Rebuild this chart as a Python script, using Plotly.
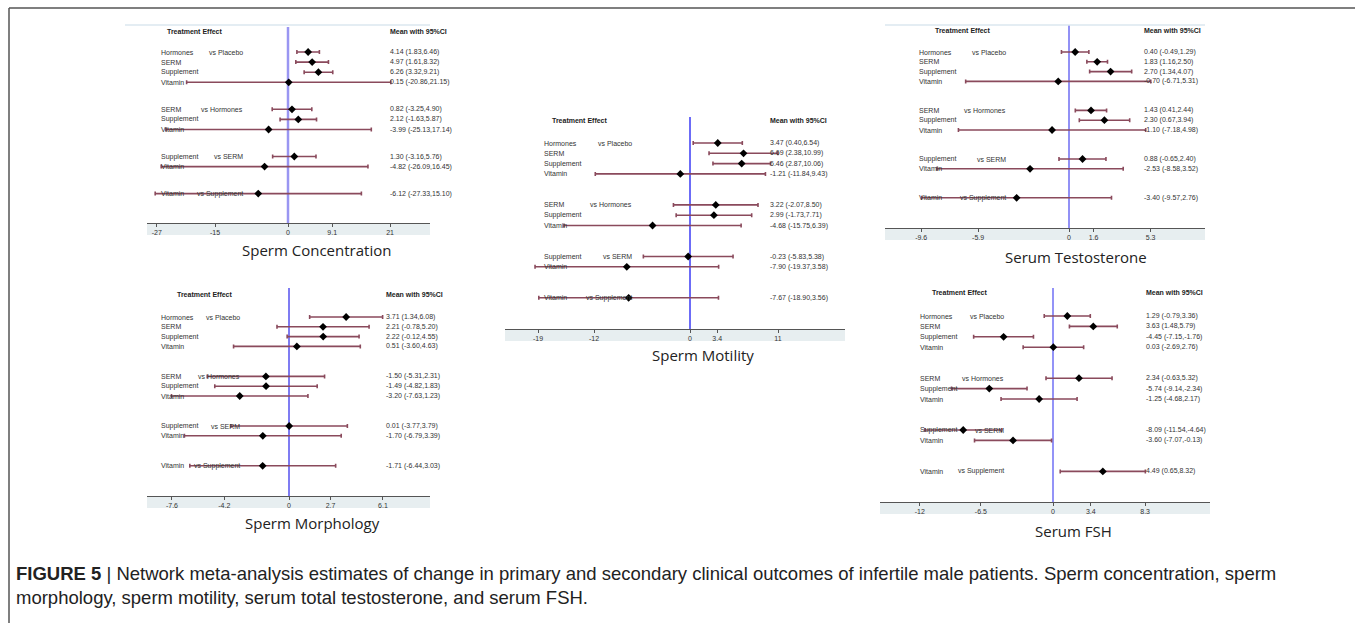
import plotly.graph_objects as go

W, H = 1355, 623

# ---------------- data ----------------
treatments = ["Hormones", "SERM", "Supplement", "Vitamin",
              "SERM", "Supplement", "Vitamin",
              "Supplement", "Vitamin",
              "Vitamin"]
comparators = ["vs Placebo", "vs Hormones", "vs SERM", "vs Supplement"]
group_sizes = [4, 3, 2, 1]

conc_mean = [4.14, 4.97, 6.26, 0.15, 0.82, 2.12, -3.99, 1.30, -4.82, -6.12]
conc_low = [1.83, 1.61, 3.32, -20.86, -3.25, -1.63, -25.13, -3.16, -26.09, -27.33]
conc_high = [6.46, 8.32, 9.21, 21.15, 4.90, 5.87, 17.14, 5.76, 16.45, 15.10]
conc_ticks = [-27, -15, 0, 9.1, 21]

morph_mean = [3.71, 2.21, 2.22, 0.51, -1.50, -1.49, -3.20, 0.01, -1.70, -1.71]
morph_low = [1.34, -0.78, -0.12, -3.60, -5.31, -4.82, -7.63, -3.77, -6.79, -6.44]
morph_high = [6.08, 5.20, 4.55, 4.63, 2.31, 1.83, 1.23, 3.79, 3.39, 3.03]
morph_ticks = [-7.6, -4.2, 0, 2.7, 6.1]

motil_mean = [3.47, 6.69, 6.46, -1.21, 3.22, 2.99, -4.68, -0.23, -7.90, -7.67]
motil_low = [0.40, 2.38, 2.87, -11.84, -2.07, -1.73, -15.75, -5.83, -19.37, -18.90]
motil_high = [6.54, 10.99, 10.06, 9.43, 8.50, 7.71, 6.39, 5.38, 3.58, 3.56]
motil_ticks = [-19, -12, 0, 3.4, 11]

testo_mean = [0.40, 1.83, 2.70, -0.70, 1.43, 2.30, -1.10, 0.88, -2.53, -3.40]
testo_low = [-0.49, 1.16, 1.34, -6.71, 0.41, 0.67, -7.18, -0.65, -8.58, -9.57]
testo_high = [1.29, 2.50, 4.07, 5.31, 2.44, 3.94, 4.98, 2.40, 3.52, 2.76]
testo_ticks = [-9.6, -5.9, 0, 1.6, 5.3]

fsh_mean = [1.29, 3.63, -4.45, 0.03, 2.34, -5.74, -1.25, -8.09, -3.60, 4.49]
fsh_low = [-0.79, 1.48, -7.15, -2.69, -0.63, -9.14, -4.68, -11.54, -7.07, 0.65]
fsh_high = [3.36, 5.79, -1.76, 2.76, 5.32, -2.34, 2.17, -4.64, -0.13, 8.32]
fsh_ticks = [-12, -6.5, 0, 3.4, 8.3]

titles = ["Sperm Concentration", "Sperm Morphology", "Sperm Motility",
          "Serum Testosterone", "Serum FSH"]

caption1 = ("<b>FIGURE 5</b> | Network meta-analysis estimates of change in primary and secondary "
            "clinical outcomes of infertile male patients. Sperm concentration, sperm")
caption2 = "morphology, sperm motility, serum total testosterone, and serum FSH."

# ---------------- layout (pixel geometry) ----------------
panels = [
    dict(data=(conc_mean, conc_low, conc_high, conc_ticks), x0=147, x1=430, zero=288, scale=4.86,
         top=27, axis=223, row0=52, step=10.1, gap=27, label_x=159, vs_right=245, te_x=165,
         head_y=32, val_x=388, tx=316, ty=250, zc="#9a96f2", zw=2.5, topline=(125, 430, 25)),
    dict(data=(morph_mean, morph_low, morph_high, morph_ticks), x0=147, x1=430, zero=289, scale=15.4,
         top=288, axis=496, row0=317, step=9.8, gap=30, label_x=159, vs_right=242, te_x=175,
         head_y=294, val_x=384, tx=312, ty=523, zc="#7f7cf2", zw=2, topline=None),
    dict(data=(motil_mean, motil_low, motil_high, motil_ticks), x0=505, x1=845, zero=690, scale=8.0,
         top=117, axis=329, row0=143, step=10.3, gap=31, label_x=542, vs_right=634, te_x=550,
         head_y=120, val_x=768, tx=703, ty=355, zc="#3b3bf5", zw=1.5, topline=None),
    dict(data=(testo_mean, testo_low, testo_high, testo_ticks), x0=885, x1=1205, zero=1069, scale=15.4,
         top=25, axis=228, row0=52, step=9.8, gap=29, label_x=917, vs_right=1008, te_x=933,
         head_y=31, val_x=1142, tx=1076, ty=257, zc="#6e6cf2", zw=1.5, topline=(885, 1205, 25)),
    dict(data=(fsh_mean, fsh_low, fsh_high, fsh_ticks), x0=880, x1=1210, zero=1053, scale=11.1,
         top=288, axis=502, row0=316, step=10.4, gap=31, label_x=918, vs_right=1006, te_x=930,
         head_y=293, val_x=1144, tx=1073, ty=531, zc="#6f6ff5", zw=1.5, topline=None),
]

FONT = "Liberation Sans, Arial, sans-serif"
TITLE_FONT = "Open Sans, Noto Sans, sans-serif"
CI_COLOR = "#8a4a5c"


def px(x):
    return x / W


def py(y):
    return 1 - y / H


fig = go.Figure()
shapes = []
annotations = []
layout_axes = {}

for i, p in enumerate(panels, start=1):
    mean, low, high, ticks = p["data"]
    xa = "x" if i == 1 else f"x{i}"
    ya = "y" if i == 1 else f"y{i}"

    # row positions from group structure
    rows = []
    first_rows = []
    y = p["row0"]
    for g, n in enumerate(group_sizes):
        first_rows.append(y)
        for k in range(n):
            rows.append(y)
            if k < n - 1:
                y += p["step"]
        y += p["gap"]

    fig.add_trace(go.Scatter(
        x=mean, y=rows, xaxis=xa, yaxis=ya, mode="markers",
        marker=dict(symbol="diamond", size=6, color="black"),
        error_x=dict(type="data", symmetric=False,
                     array=[h - m for h, m in zip(high, mean)],
                     arrayminus=[m - l for m, l in zip(mean, low)],
                     color=CI_COLOR, thickness=1.6, width=2),
        showlegend=False, hoverinfo="skip", cliponaxis=False,
    ))

    layout_axes["xaxis" if i == 1 else f"xaxis{i}"] = dict(
        domain=[px(p["x0"]), px(p["x1"])],
        range=[(p["x0"] - p["zero"]) / p["scale"], (p["x1"] - p["zero"]) / p["scale"]],
        anchor=ya, showgrid=False, zeroline=False, showline=True, linecolor="#555555",
        linewidth=1, ticks="outside", ticklen=3, tickcolor="#555555",
        tickvals=ticks, ticktext=[f"{t:g}" for t in ticks],
        tickfont=dict(family=FONT, size=7, color="#333333"), fixedrange=True,
    )
    layout_axes["yaxis" if i == 1 else f"yaxis{i}"] = dict(
        domain=[py(p["axis"]), py(p["top"])], range=[p["axis"], p["top"]],
        anchor=xa, visible=False, fixedrange=True,
    )

    # axis band
    shapes.append(dict(type="rect", xref="paper", yref="paper", x0=px(p["x0"]), x1=px(p["x1"]),
                       y0=py(p["axis"] + 12), y1=py(p["axis"]), fillcolor="#e7eef0",
                       line=dict(width=0), layer="below"))
    if p["topline"]:
        a, b, yy = p["topline"]
        shapes.append(dict(type="line", xref="paper", yref="paper", x0=px(a), x1=px(b),
                           y0=py(yy), y1=py(yy), line=dict(color="#dbe7ef", width=1.5)))
    # zero line
    shapes.append(dict(type="line", xref=xa, yref=ya, x0=0, x1=0, y0=p["top"], y1=p["axis"],
                       line=dict(color=p["zc"], width=p["zw"]), layer="below"))

    # headers
    annotations.append(dict(text="<b>Treatment Effect</b>", xref="paper", yref="paper",
                            x=px(p["te_x"]), y=py(p["head_y"]), xanchor="left", yanchor="middle",
                            showarrow=False, font=dict(family=FONT, size=7, color="#222")))
    annotations.append(dict(text="<b>Mean with 95%CI</b>", xref="paper", yref="paper",
                            x=px(p["val_x"]), y=py(p["head_y"]), xanchor="left", yanchor="middle",
                            showarrow=False, font=dict(family=FONT, size=7, color="#222")))
    # row labels and values
    for name, yy, m, l, h in zip(treatments, rows, mean, low, high):
        annotations.append(dict(text=name, xref="paper", yref=ya, x=px(p["label_x"]), y=yy,
                                xanchor="left", yanchor="middle", showarrow=False,
                                font=dict(family=FONT, size=7, color="#333")))
        annotations.append(dict(text=f"{m:.2f} ({l:.2f},{h:.2f})", xref="paper", yref=ya,
                                x=px(p["val_x"]), y=yy, xanchor="left", yanchor="middle",
                                showarrow=False, font=dict(family=FONT, size=7, color="#333")))
    for comp, yy in zip(comparators, first_rows):
        annotations.append(dict(text=comp, xref="paper", yref=ya, x=px(p["vs_right"]), y=yy,
                                xanchor="right", yanchor="middle", showarrow=False,
                                font=dict(family=FONT, size=7, color="#333")))
    # panel title
    annotations.append(dict(text=titles[i - 1], xref="paper", yref="paper", x=px(p["tx"]),
                            y=py(p["ty"]), xanchor="center", yanchor="middle", showarrow=False,
                            font=dict(family=TITLE_FONT, size=15, color="#222")))

# caption
annotations.append(dict(text=caption1, xref="paper", yref="paper", x=px(14), y=py(573),
                        xanchor="left", yanchor="middle", showarrow=False,
                        font=dict(family=FONT, size=18.5, color="#222")))
annotations.append(dict(text=caption2, xref="paper", yref="paper", x=px(14), y=py(597),
                        xanchor="left", yanchor="middle", showarrow=False,
                        font=dict(family=FONT, size=18.5, color="#222")))

# figure frame
shapes.append(dict(type="line", xref="paper", yref="paper", x0=px(9), x1=1, y0=py(8), y1=py(8),
                   line=dict(color="#555555", width=1.5)))
shapes.append(dict(type="line", xref="paper", yref="paper", x0=px(9), x1=px(9), y0=py(8), y1=0,
                   line=dict(color="#555555", width=1.5)))

fig.update_layout(
    width=W, height=H, margin=dict(l=0, r=0, t=0, b=0), autosize=False,
    paper_bgcolor="white", plot_bgcolor="rgba(0,0,0,0)",
    shapes=shapes, annotations=annotations, **layout_axes,
)

fig.write_html("out.html", config={"displayModeBar": False},
               post_script="document.body.style.margin='0';document.body.style.overflow='hidden';")
